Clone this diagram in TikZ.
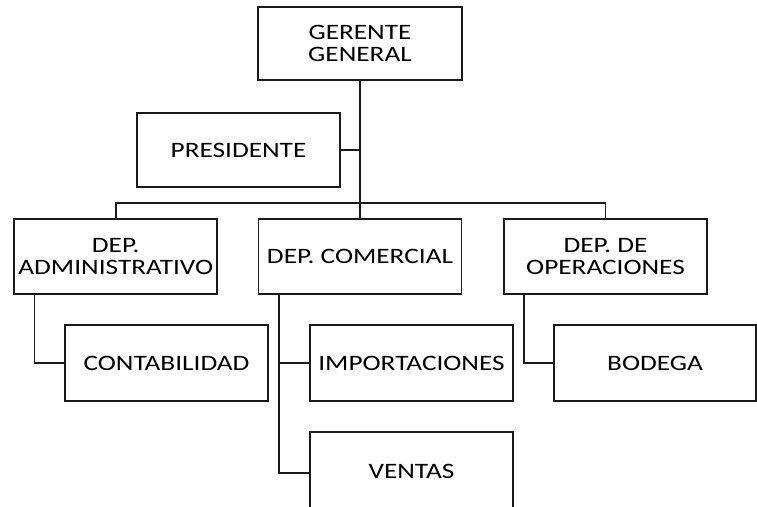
\documentclass[tikz,border=0pt]{standalone}
\usepackage{fontspec}
\setmainfont{Carlito}[FakeStretch=1.24]
\begin{document}
\begin{tikzpicture}[x=1pt,y=-1pt,
  box/.style={draw=black!90, line width=1.7pt, rectangle, minimum width=203pt,
    inner sep=0pt, align=center, font=\fontsize{22}{22}\selectfont},
  link/.style={draw=black!90, line width=1.7pt}]
\useasboundingbox (0,0) rectangle (757,506);
\clip (0,0) rectangle (757,506);
\node[box, minimum width=204pt, minimum height=73pt] (gg) at (360,43.5) {GERENTE\\GENERAL};
\node[box, minimum height=74pt] (pres) at (238.5,150) {PRESIDENTE};
\node[box, minimum height=75pt] (adm) at (115.75,256.5) {DEP.\\ADMINISTRATIVO};
\node[box, minimum height=75pt] (com) at (360,256.5) {DEP. COMERCIAL};
\node[box, minimum height=75pt] (ope) at (605.5,256.5) {DEP. DE\\OPERACIONES};
\node[box, minimum height=76pt] (cont) at (166.5,363) {CONTABILIDAD};
\node[box, minimum height=76pt] (imp) at (411.5,363) {IMPORTACIONES};
\node[box, minimum width=202pt, minimum height=76pt] (bod) at (655,363) {BODEGA};
\node[box, minimum height=78pt] (ven) at (411.5,471) {VENTAS};
\coordinate (bus) at (360,203);
\draw[link] (gg.south) -- (com.north);
\draw[link] (pres.east) -- (pres.east -| gg.south);
\draw[link] (adm.north) |- (bus) -| (ope.north);
\draw[link] ([xshift=21pt]adm.south west) |- (cont.west);
\draw[link] ([xshift=21pt]com.south west) |- (imp.west);
\draw[link] ([xshift=21pt]com.south west) |- ([yshift=-2pt]ven.west);
\draw[link] ([xshift=21pt]ope.south west) |- (bod.west);
\end{tikzpicture}
\end{document}
